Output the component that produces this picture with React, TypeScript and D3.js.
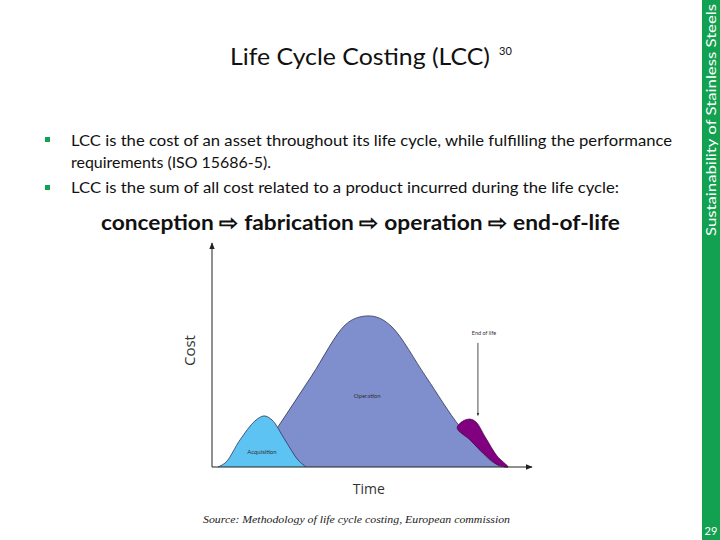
import React from "react";
import * as d3 from "d3";

// Diagram data (time %, cost %)
const acquisitionPts: [number, number][] = [
  [1.9, 0], [4.4, 2.2], [8.75, 12.1], [13.4, 20.5], [16.25, 22.8], [18.75, 21.0], [22.8, 12.1], [26.9, 3.1], [29.4, 0],
];
const operationPts: [number, number][] = [
  [11.9, 0], [20.6, 17.9], [31.1, 40.6], [41.6, 63.4], [46.25, 67], [51.25, 67], [56.25, 62.5], [66.9, 40.2], [77.5, 17.9], [86.9, 3.1], [90.6, 0],
];
const endOfLifePts: [number, number][] = [
  [76.6, 17.4], [78.4, 20.5], [80.6, 21.4], [82.5, 20.1], [85.6, 12.9], [89.1, 4.9], [92.5, 0],
  [89.4, 0.9], [85.3, 5.4], [80.6, 12.1],
];
const phaseLabels = ["Acquisition", "Operation", "End of life"];
const bullets = [
  "LCC is the cost of an asset throughout its life cycle, while fulfilling the performance",
  "requirements (ISO 15686-5).",
  "LCC is the sum of all cost related to a product incurred during the life cycle:",
];
const stages = ["conception", "fabrication", "operation", "end-of-life"];

export default function App() {
  const x = d3.scaleLinear().domain([0, 100]).range([212, 532]);
  const y = d3.scaleLinear().domain([0, 100]).range([467, 243]);
  const mk = (pts: [number, number][], closed = false) =>
    d3.line<[number, number]>().x(d => x(d[0])).y(d => y(d[1])).curve(closed ? d3.curveCatmullRomClosed : d3.curveCatmullRom)(pts) || "";
  const font = "Lato, 'Open Sans', sans-serif";
  const arrowSep = " \u21E8 ";
  const green = "#12a150";
  return (
    <svg width={720} height={540} style={{ position: "absolute", left: 0, top: 0, background: "#fff" }}
      fontFamily={font}>
      <defs>
        <marker id="ah" viewBox="0 0 10 10" refX="9" refY="5" markerWidth="7" markerHeight="7" orient="auto">
          <path d="M0,1 L10,5 L0,9 z" fill="#222" />
        </marker>
        <marker id="ah2" viewBox="0 0 10 10" refX="9" refY="5" markerWidth="4" markerHeight="4" orient="auto">
          <path d="M0,1 L10,5 L0,9 z" fill="#222" />
        </marker>
      </defs>
      {/* title */}
      <text x={230} y={65} fontSize={23} fill="#111" textLength={260} lengthAdjust="spacingAndGlyphs">Life Cycle Costing (LCC)</text>
      <text x={499} y={55} fontSize={11} fill="#111">30</text>
      {/* bullets */}
      <rect x={45} y={137} width={5} height={5} fill={green} />
      <rect x={45} y={185} width={5} height={5} fill={green} />
      <text x={71} y={146} fontSize={15} fill="#111" textLength={601} lengthAdjust="spacingAndGlyphs">{bullets[0]}</text>
      <text x={71} y={168} fontSize={15} fill="#111" textLength={200} lengthAdjust="spacingAndGlyphs">{bullets[1]}</text>
      <text x={71} y={193} fontSize={15} fill="#111" textLength={548} lengthAdjust="spacingAndGlyphs">{bullets[2]}</text>
      <text x={101} y={230} fontSize={21} fontWeight="bold" fill="#111" textLength={519} lengthAdjust="spacingAndGlyphs">
        {stages.join(arrowSep)}
      </text>
      {/* diagram shapes */}
      <path d={mk(operationPts)} fill="#7f8ecd" stroke="#2f3350" strokeWidth={0.8} />
      <path d={mk(acquisitionPts)} fill="#5cc3f2" stroke="#2f3350" strokeWidth={0.8} />
      <path d={mk(endOfLifePts, true)} fill="#800080" stroke="#3a003a" strokeWidth={0.6} />
      {/* axes */}
      <line x1={x(0)} y1={y(0)} x2={x(0)} y2={y(100)} stroke="#222" strokeWidth={1} markerEnd="url(#ah)" />
      <line x1={x(0)} y1={y(0)} x2={x(100)} y2={y(0)} stroke="#222" strokeWidth={1} markerEnd="url(#ah)" />
      <text transform={`translate(${x(0) - 17},${y(52)}) rotate(-90)`} textAnchor="middle" fontSize={15}
        fontFamily="'Open Sans', sans-serif" fill="#333">Cost</text>
      <text x={x(49)} y={y(-12)} textAnchor="middle" fontSize={14} fontFamily="'Open Sans', sans-serif" fill="#333">Time</text>
      {/* phase labels */}
      <text x={x(15.6)} y={y(6)} textAnchor="middle" fontSize={6} fill="#333">{phaseLabels[0]}</text>
      <text x={x(48.5)} y={y(31)} textAnchor="middle" fontSize={6} fill="#333">{phaseLabels[1]}</text>
      <text x={x(85)} y={y(59)} textAnchor="middle" fontSize={5.5} fill="#333">{phaseLabels[2]}</text>
      <line x1={x(83.1)} y1={y(55.4)} x2={x(83.1)} y2={y(23)} stroke="#222" strokeWidth={0.8} markerEnd="url(#ah2)" />
      {/* source */}
      <text x={203} y={523} fontSize={10} fontStyle="italic" fill="#222" fontFamily="'Liberation Serif', serif"
        textLength={307} lengthAdjust="spacingAndGlyphs">Source: Methodology of life cycle costing, European commission</text>
      {/* side bar */}
      <rect x={702} y={0} width={18} height={540} fill={green} />
      <text transform="translate(716,236) rotate(-90)" fontSize={14} fill="#fff" textLength={232}
        lengthAdjust="spacingAndGlyphs">Sustainability of Stainless Steels</text>
      <text x={711} y={535} textAnchor="middle" fontSize={11} fill="#fff">29</text>
    </svg>
  );
}
